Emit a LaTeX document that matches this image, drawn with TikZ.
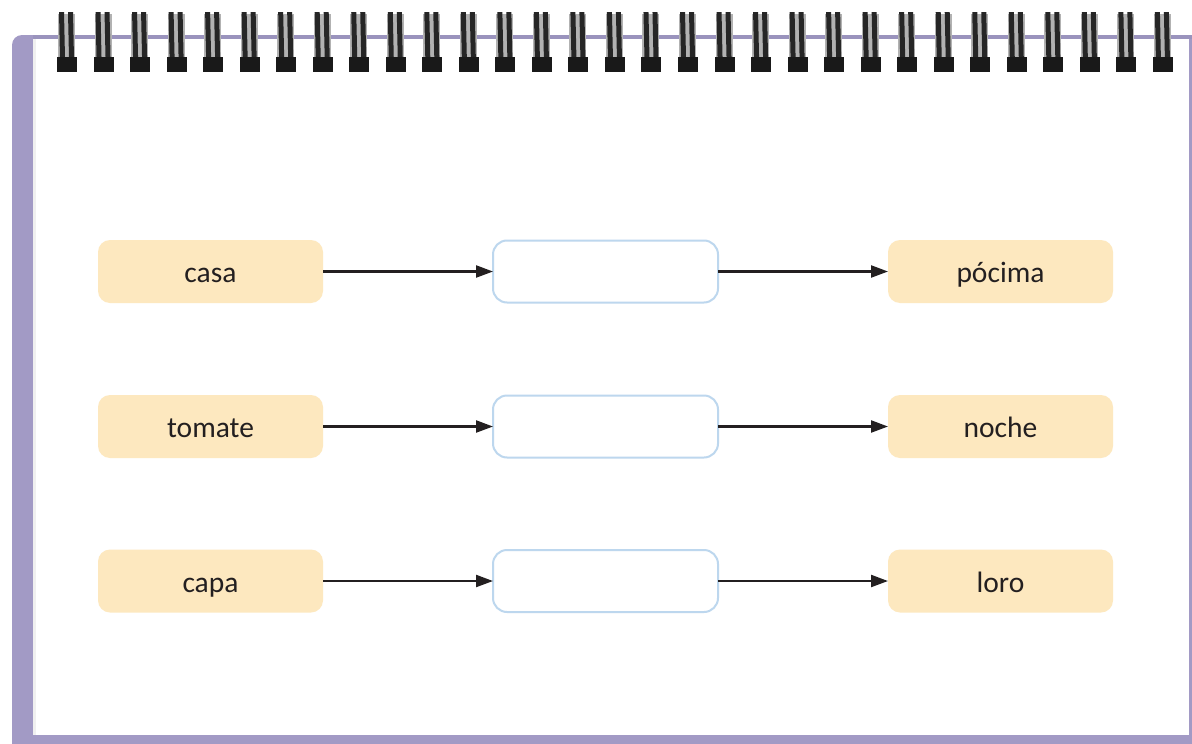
\documentclass[tikz,border=0pt]{standalone}
\usepackage{fontspec}
\setmainfont{Carlito}
\usetikzlibrary{arrows.meta}
\definecolor{frame}{HTML}{A29AC5}
\definecolor{frameline}{HTML}{9A93BD}
\definecolor{orangefill}{HTML}{FDE8BF}
\definecolor{blueedge}{HTML}{BDD7EE}
\definecolor{ink}{HTML}{231F20}
\tikzset{
  wordbox/.style={rounded corners=12pt, fill=orangefill, minimum width=225pt, minimum height=63pt, inner sep=0pt, outer sep=0pt, text=ink, font=\fontsize{29.5}{34}\selectfont, text height=22pt, text depth=0pt},
  blankbox/.style={rounded corners=14pt, draw=blueedge, line width=2pt, fill=white, minimum width=225pt, minimum height=62pt, inner sep=0pt, outer sep=0pt},
  link/.style={draw=ink, line width=2.2pt, -{Triangle[length=17pt,width=12pt]}},
  ringbar/.style={fill=black!85},
}
\begin{document}
\begin{tikzpicture}[x=1pt,y=-1pt]
\useasboundingbox (0,0) rectangle (1192,744);
% notebook frame
\fill[white] (0,0) rectangle (1192,744);
\fill[frame, rounded corners=10pt] (12,35) rectangle (1200,760);
\fill[white] (33,39) rectangle (1189,735);
\fill[black!6] (33,39) rectangle (36,735);
\fill[frameline] (33,35) rectangle (1192,39);
% spiral rings
\foreach \i in {0,...,30}{
  \pgfmathsetmacro{\cx}{67+\i*36.53}
  \fill[black!30] (\cx-9,14) rectangle (\cx+8,58);
  \fill[ringbar] (\cx-8,12) -- (\cx-3,12) -- (\cx-2,58) -- (\cx-7,58) -- cycle;
  \fill[ringbar] (\cx+1,12) -- (\cx+6,12) -- (\cx+7,58) -- (\cx+2,58) -- cycle;
  \fill[black!90] (\cx-10,57) rectangle (\cx+10,72);
}
% boxes
\node[wordbox] (l1) at (210.5,271.5) {casa};
\node[wordbox] (l2) at (210.5,426.5) {tomate};
\node[wordbox] (l3) at (210.5,581) {capa};
\node[blankbox] (m1) at (605.5,271.5) {};
\node[blankbox] (m2) at (605.5,426.5) {};
\node[blankbox] (m3) at (605.5,581) {};
\node[wordbox] (r1) at (1000.5,271.5) {pócima};
\node[wordbox] (r2) at (1000.5,426.5) {noche};
\node[wordbox] (r3) at (1000.5,581) {loro};
% arrows
\foreach \k in {1,2,3}{
  \draw[link] (l\k.east) -- (m\k.west);
  \draw[link] (m\k.east) -- (r\k.west);
}
\end{tikzpicture}
\end{document}
